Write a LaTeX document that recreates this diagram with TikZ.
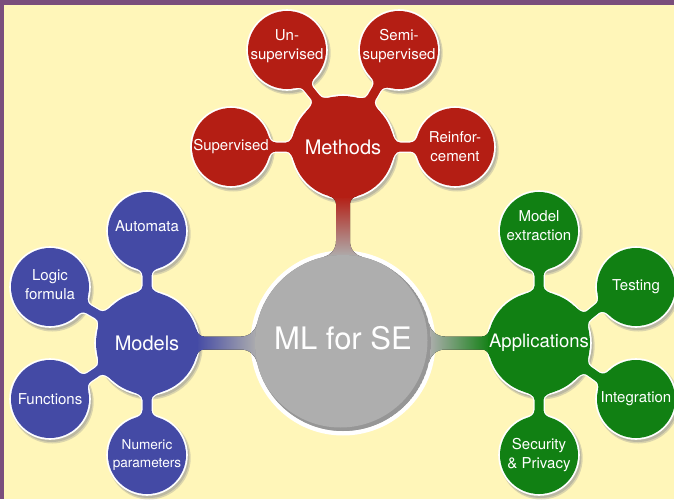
\documentclass[tikz,border=0pt]{standalone}
\usepackage{fontspec}
\setmainfont{TeX Gyre Heros}
\usetikzlibrary{calc}
\pgfdeclarelayer{bgl}
\pgfdeclarelayer{shad}
\pgfdeclarelayer{rim}
\pgfdeclarelayer{bars}
\pgfsetlayers{bgl,shad,rim,bars,main}
\definecolor{methred}{RGB}{180,30,20}
\definecolor{modblue}{RGB}{68,74,165}
\definecolor{appgreen}{RGB}{17,128,19}
\definecolor{rootgray}{RGB}{174,174,174}
\definecolor{rootdark}{RGB}{150,150,150}
\definecolor{bgyellow}{RGB}{255,246,185}
\definecolor{borderpurple}{RGB}{122,78,124}
\definecolor{shadowc}{RGB}{150,150,150}

\newdimen\cbxa \newdimen\cbya \newdimen\cbxb \newdimen\cbyb \newdimen\cbtmp
% #1 from node, #2 to node, #3 angle at #1, #4 angle at #2, #5 half width,
% #6 fillet length at #1, #7 fillet length at #2, #8 fill options, #9 white rim width
\newcommand\conbar[9]{%
  \pgfextractx{\cbxa}{\pgfpointanchor{#1}{center}}%
  \pgfextracty{\cbya}{\pgfpointanchor{#1}{center}}%
  \pgfextractx{\cbxb}{\pgfpointanchor{#2}{center}}%
  \pgfextracty{\cbyb}{\pgfpointanchor{#2}{center}}%
  \pgfextracty{\cbtmp}{\pgfpointanchor{#1}{north}}%
  \pgfmathsetmacro\cbra{\cbtmp-\cbya}%
  \pgfextracty{\cbtmp}{\pgfpointanchor{#2}{north}}%
  \pgfmathsetmacro\cbrb{\cbtmp-\cbyb}%
  \pgfmathsetmacro\cbang{atan2(\cbyb-\cbya,\cbxb-\cbxa)}%
  \pgfmathsetmacro\cbback{\cbang+180}%
  \pgfmathsetmacro\cbaP{\cbang+#3}%
  \pgfmathsetmacro\cbaM{\cbang-#3}%
  \pgfmathsetmacro\cbbP{\cbang+180-#4}%
  \pgfmathsetmacro\cbbM{\cbang+180+#4}%
  \pgfmathsetmacro\cbtaP{\cbang+#3-90}%
  \pgfmathsetmacro\cbtaM{\cbang-#3+90}%
  \pgfmathsetmacro\cbtbP{\cbang-90-#4}%
  \pgfmathsetmacro\cbtbM{\cbang+90+#4}%
  \pgfmathsetmacro\cbnP{\cbang+90}%
  \pgfmathsetmacro\cbnM{\cbang-90}%
  \pgfmathsetmacro\cbla{0.55*(\cbra*sin(#3)-#5)}%
  \pgfmathsetmacro\cbka{0.55*(#6+\cbra*(1-cos(#3)))}%
  \pgfmathsetmacro\cblb{0.55*(\cbrb*sin(#4)-#5)}%
  \pgfmathsetmacro\cbkb{0.55*(#7+\cbrb*(1-cos(#4)))}%
  \def\cbpath{(#1.\cbaP) .. controls +(\cbtaP:\cbla pt) and +(\cbback:\cbka pt) .. ($(#1.\cbang)+(\cbang:#6pt)+(\cbnP:#5pt)$) -- ($(#2.\cbback)+(\cbback:#7pt)+(\cbnP:#5pt)$) .. controls +(\cbang:\cbkb pt) and +(\cbtbP:\cblb pt) .. (#2.\cbbP) -- (#2.\cbbM) .. controls +(\cbtbM:\cblb pt) and +(\cbang:\cbkb pt) .. ($(#2.\cbback)+(\cbback:#7pt)+(\cbnM:#5pt)$) -- ($(#1.\cbang)+(\cbang:#6pt)+(\cbnM:#5pt)$) .. controls +(\cbback:\cbka pt) and +(\cbtaM:\cbla pt) .. (#1.\cbaM) -- cycle}%
  \ifdim#9pt>0pt
  \begin{pgfonlayer}{rim}
    \draw[white, line width=#9pt, line join=round] \cbpath;
  \end{pgfonlayer}%
  \fi
  \begin{pgfonlayer}{bars}
    \fill[#8] \cbpath;
  \end{pgfonlayer}%
}

\tikzset{
  conc/.style={circle, inner sep=0pt, outer sep=0pt},
  rootc/.style={conc, minimum size=176pt, fill=rootgray},
  mainc/.style={conc, minimum size=102pt},
  leafc/.style={conc, minimum size=78pt},
  roottext/.style={text=white, font=\fontsize{31}{36}\selectfont},
  maintext/.style={text=white, font=\fontsize{20}{24}\selectfont},
  leaftext/.style={text=white, align=center, font=\fontsize{15}{19}\selectfont},
}

\begin{document}
\begin{tikzpicture}[x=1pt, y=1pt]
\useasboundingbox (0,0) rectangle (674,499);
\begin{pgfonlayer}{bgl}
  \fill[borderpurple] (0,0) rectangle (674,499);
  \fill[bgyellow] (4,0) rectangle (674,494);
\end{pgfonlayer}

% root
\node[rootc, label={[roottext, yshift=5pt]center:ML for SE},
  path picture={\fill[rootdark] (path picture bounding box.center) circle[radius=88pt];
                \fill[rootgray] ([shift={(-2.5pt,2.5pt)}]path picture bounding box.center) circle[radius=87pt];}]
  (root) at (343,156) {};

% main concepts
\node[mainc, fill=methred, label={[maintext]center:Methods}] (meth) at (343,352) {};
\node[mainc, fill=modblue, label={[maintext]center:Models}] (mod) at (147,156) {};
\node[mainc, fill=appgreen, label={[maintext, font=\fontsize{18.5}{22}\selectfont]center:Applications}] (app) at (539,156) {};

% Methods children
\node[leafc, fill=methred, label={[leaftext]center:Supervised}] (sup) at ($(meth)+(180:112)$) {};
\node[leafc, fill=methred, label={[leaftext, yshift=4pt]center:{Un-\\supervised}}] (unsup) at ($(meth)+(120:112)$) {};
\node[leafc, fill=methred, label={[leaftext, yshift=4pt]center:{Semi-\\supervised}}] (semi) at ($(meth)+(60:112)$) {};
\node[leafc, fill=methred, label={[leaftext]center:{Reinfor-\\cement}}] (reinf) at ($(meth)+(0:112)$) {};

% Models children
\node[leafc, fill=modblue, label={[leaftext, yshift=5pt]center:Automata}] (auto) at ($(mod)+(90:112)$) {};
\node[leafc, fill=modblue, label={[leaftext, yshift=2pt]center:{Logic\\formula}}] (logic) at ($(mod)+(150:112)$) {};
\node[leafc, fill=modblue, label={[leaftext]center:Functions}] (func) at ($(mod)+(210:112)$) {};
\node[leafc, fill=modblue, label={[leaftext, font=\fontsize{13.6}{18}\selectfont]center:{Numeric\\parameters}}] (num) at ($(mod)+(270:112)$) {};

% Applications children
\node[leafc, fill=appgreen, label={[leaftext, yshift=5pt]center:{Model\\extraction}}] (mext) at ($(app)+(90:112)$) {};
\node[leafc, fill=appgreen, label={[leaftext]center:Testing}] (test) at ($(app)+(30:112)$) {};
\node[leafc, fill=appgreen, label={[leaftext]center:Integration}] (integ) at ($(app)+(-30:112)$) {};
\node[leafc, fill=appgreen, label={[leaftext]center:{Security\\\& Privacy}}] (secp) at ($(app)+(270:112)$) {};

% shadows and white rims
\begin{pgfonlayer}{shad}
  \foreach \n/\r in {meth/51,mod/51,app/51,sup/39,unsup/39,semi/39,reinf/39,auto/39,logic/39,func/39,num/39,mext/39,test/39,integ/39,secp/39}{
    \fill[shadowc, opacity=.35] ([shift={(2.2pt,-3pt)}]\n.center) circle[radius=\r pt+2.5pt];
    \fill[shadowc, opacity=.45] ([shift={(1.8pt,-2.5pt)}]\n.center) circle[radius=\r pt+1.5pt];
  }
\end{pgfonlayer}
\begin{pgfonlayer}{rim}
  \foreach \n/\r in {meth/51,mod/51,app/51,sup/39,unsup/39,semi/39,reinf/39,auto/39,logic/39,func/39,num/39,mext/39,test/39,integ/39,secp/39}{
    \fill[white] (\n.center) circle[radius=\r pt+1.8pt];
  }
  \fill[white] (root.center) circle[radius=92.5pt];
\end{pgfonlayer}

% connection bars: children
\conbar{meth}{sup}{18}{17}{4.5}{6}{6}{fill=methred}{2.5}
\conbar{meth}{unsup}{18}{17}{4.5}{6}{6}{fill=methred}{2.5}
\conbar{meth}{semi}{18}{17}{4.5}{6}{6}{fill=methred}{2.5}
\conbar{meth}{reinf}{18}{17}{4.5}{6}{6}{fill=methred}{2.5}
\conbar{mod}{auto}{18}{17}{4.5}{6}{6}{fill=modblue}{2.5}
\conbar{mod}{logic}{18}{17}{4.5}{6}{6}{fill=modblue}{2.5}
\conbar{mod}{func}{18}{17}{4.5}{6}{6}{fill=modblue}{2.5}
\conbar{mod}{num}{18}{17}{4.5}{6}{6}{fill=modblue}{2.5}
\conbar{app}{mext}{18}{17}{4.5}{6}{6}{fill=appgreen}{2.5}
\conbar{app}{test}{18}{17}{4.5}{6}{6}{fill=appgreen}{2.5}
\conbar{app}{integ}{18}{17}{4.5}{6}{6}{fill=appgreen}{2.5}
\conbar{app}{secp}{18}{17}{4.5}{6}{6}{fill=appgreen}{2.5}

% connection bars: main
\conbar{meth}{root}{16}{13}{7}{6}{14}{top color=methred, bottom color=rootgray}{0}
\conbar{mod}{root}{16}{13}{6.5}{6}{14}{left color=modblue, right color=rootgray}{0}
\conbar{app}{root}{16}{13}{6.5}{6}{14}{left color=rootgray, right color=appgreen}{0}
\end{tikzpicture}
\end{document}
